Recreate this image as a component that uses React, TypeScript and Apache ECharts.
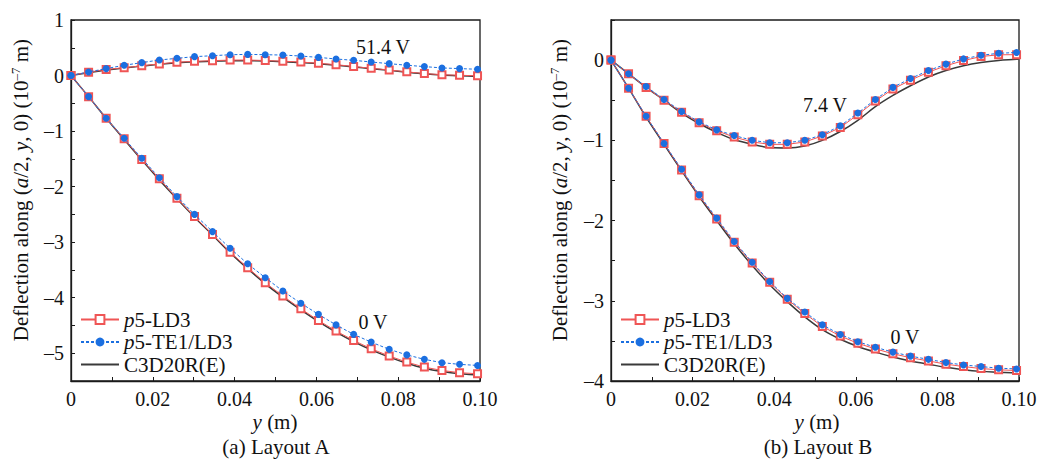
import React, { useEffect, useRef } from "react";
import * as echarts from "echarts";

// ---- data ----
const X_MARK = [0, 0.0043, 0.0086, 0.013, 0.0173, 0.0216, 0.0259, 0.0302, 0.0346, 0.0389, 0.0432, 0.0475, 0.0518, 0.0562, 0.0605, 0.0648, 0.0691, 0.0734, 0.0778, 0.0821, 0.0864, 0.0907, 0.095, 0.0994];
const X_LINE = [...X_MARK, 0.1];

// Layout A
const A_LD3_0V = [0, -0.38, -0.77, -1.14, -1.51, -1.86, -2.21, -2.54, -2.86, -3.18, -3.46, -3.73, -3.97, -4.2, -4.41, -4.6, -4.77, -4.92, -5.05, -5.16, -5.25, -5.31, -5.35, -5.37];
const A_TE1_0V = [0, -0.38, -0.77, -1.13, -1.49, -1.84, -2.18, -2.5, -2.81, -3.11, -3.39, -3.64, -3.88, -4.1, -4.3, -4.49, -4.66, -4.8, -4.93, -5.03, -5.11, -5.17, -5.2, -5.22];
const A_C3D_0V = [0, -0.38, -0.77, -1.15, -1.52, -1.88, -2.22, -2.55, -2.87, -3.19, -3.48, -3.75, -3.99, -4.22, -4.43, -4.62, -4.79, -4.94, -5.07, -5.18, -5.27, -5.33, -5.37, -5.39, -5.4];
const A_LD3_514V = [0, 0.06, 0.11, 0.14, 0.175, 0.21, 0.24, 0.256, 0.268, 0.278, 0.28, 0.27, 0.258, 0.244, 0.22, 0.196, 0.162, 0.131, 0.1, 0.066, 0.036, 0.014, 0.005, -0.005];
const A_TE1_514V = [0, 0.065, 0.125, 0.185, 0.232, 0.28, 0.31, 0.34, 0.357, 0.375, 0.381, 0.375, 0.369, 0.351, 0.327, 0.298, 0.274, 0.244, 0.214, 0.185, 0.161, 0.137, 0.125, 0.113];
const A_C3D_514V = [0, 0.05, 0.1, 0.135, 0.17, 0.205, 0.232, 0.25, 0.26, 0.266, 0.268, 0.262, 0.25, 0.234, 0.212, 0.186, 0.155, 0.124, 0.093, 0.06, 0.03, 0.008, -0.005, -0.015, -0.02];

// Layout B
const B_LD3_0V = [0, -0.35, -0.7, -1.04, -1.37, -1.69, -1.98, -2.27, -2.53, -2.77, -2.98, -3.16, -3.32, -3.44, -3.53, -3.6, -3.66, -3.71, -3.75, -3.79, -3.82, -3.845, -3.86, -3.87];
const B_TE1_0V = [0, -0.35, -0.7, -1.04, -1.36, -1.68, -1.97, -2.26, -2.52, -2.76, -2.97, -3.14, -3.3, -3.42, -3.51, -3.58, -3.64, -3.69, -3.73, -3.77, -3.8, -3.82, -3.84, -3.85];
const B_C3D_0V = [0, -0.35, -0.71, -1.05, -1.38, -1.7, -2.0, -2.29, -2.56, -2.8, -3.01, -3.2, -3.36, -3.48, -3.57, -3.64, -3.7, -3.75, -3.79, -3.83, -3.86, -3.88, -3.89, -3.9, -3.9];
const B_LD3_74V = [0, -0.17, -0.34, -0.5, -0.65, -0.78, -0.88, -0.96, -1.02, -1.05, -1.05, -1.02, -0.945, -0.84, -0.68, -0.51, -0.36, -0.25, -0.15, -0.07, -0.006, 0.045, 0.066, 0.068];
const B_TE1_74V = [0, -0.17, -0.33, -0.49, -0.64, -0.77, -0.87, -0.94, -1.0, -1.03, -1.03, -1.0, -0.93, -0.82, -0.66, -0.49, -0.34, -0.23, -0.13, -0.05, 0.015, 0.06, 0.085, 0.095];
const B_C3D_74V = [0, -0.17, -0.34, -0.5, -0.66, -0.79, -0.9, -0.99, -1.05, -1.09, -1.095, -1.07, -1.0, -0.89, -0.75, -0.58, -0.44, -0.32, -0.21, -0.13, -0.07, -0.03, -0.005, 0.01, 0.015];

const LEGEND_NAMES = ["p5-LD3", "p5-TE1/LD3", "C3D20R(E)"];
const AXIS_A = { min: -5.5, max: 1, interval: 0.5 };
const AXIS_B = { min: -4, max: 0.5, interval: 0.5 };

const FONT = "'Liberation Serif', 'Times New Roman', serif";
const RED = "#ef5555";
const BLUE = "#1b6fe0";
const BLACK = "#3a3a3a";
const AXC = "#1a1a1a";

const zip = (xs: number[], ys: number[]) => ys.map((y, i) => [xs[i], y]);

function xAxisOf(grid: number) {
  return {
    type: "value",
    gridIndex: grid,
    min: 0,
    max: 0.1,
    interval: 0.01,
    axisLine: { show: true, onZero: false, lineStyle: { color: AXC, width: 1.3 } },
    axisTick: { show: true, inside: true, length: 4, lineStyle: { color: AXC, width: 1 } },
    splitLine: { show: false },
    axisLabel: {
      margin: 8,
      fontFamily: FONT,
      fontSize: 20,
      color: "#111",
      formatter: (v: number) => {
        const n = Math.round(v * 100);
        if (n % 2 !== 0) return "";
        return n === 0 ? "0" : (n / 100).toFixed(2);
      },
    },
  };
}

function yAxisOf(grid: number, ax: { min: number; max: number; interval: number }) {
  return {
    type: "value",
    gridIndex: grid,
    min: ax.min,
    max: ax.max,
    interval: ax.interval,
    axisLine: { show: true, onZero: false, lineStyle: { color: AXC, width: 1.3 } },
    axisTick: { show: true, inside: true, length: 4, lineStyle: { color: AXC, width: 1 } },
    splitLine: { show: false },
    axisLabel: {
      margin: 7,
      fontFamily: FONT,
      fontSize: 20,
      color: "#111",
      formatter: (v: number) => {
        if (Math.abs(v - Math.round(v)) > 1e-6) return "";
        const r = Math.round(v);
        return r < 0 ? "\u2013" + -r : String(r);
      },
    },
  };
}

function lineSeries(name: string, grid: number, xs: number[], ys: number[]) {
  return {
    name,
    type: "line",
    xAxisIndex: grid,
    yAxisIndex: grid,
    data: zip(xs, ys),
    showSymbol: false,
    symbol: "none",
    smooth: 0.35,
    lineStyle: { color: BLACK, width: 1.5 },
    itemStyle: { color: BLACK },
    z: 2,
  };
}
function ld3Series(grid: number, ys: number[]) {
  return {
    name: "p5-LD3",
    type: "line",
    xAxisIndex: grid,
    yAxisIndex: grid,
    data: zip(X_MARK, ys),
    symbol: "emptyRect",
    symbolSize: 7,
    lineStyle: { color: RED, width: 1 },
    itemStyle: { color: RED, borderWidth: 1.2 },
    z: 3,
  };
}
function te1Series(grid: number, ys: number[]) {
  return {
    name: "p5-TE1/LD3",
    type: "line",
    xAxisIndex: grid,
    yAxisIndex: grid,
    data: zip(X_MARK, ys),
    symbol: "circle",
    symbolSize: 7,
    lineStyle: { color: BLUE, width: 1, type: [3, 2] },
    itemStyle: { color: BLUE },
    z: 4,
  };
}

function legendOf(left: number, top: number) {
  return {
    orient: "vertical",
    left,
    top,
    itemWidth: 38,
    itemHeight: 11,
    itemGap: 1.5,
    data: [
      LEGEND_NAMES[0],
      LEGEND_NAMES[1],
      { name: LEGEND_NAMES[2], itemStyle: { opacity: 0 } },
    ],
    selectedMode: false,
    formatter: (name: string) => (name.startsWith("p5") ? "{i|p}" + name.slice(1) : name),
    textStyle: {
      fontFamily: FONT,
      fontSize: 21,
      color: "#111",
      rich: { i: { fontFamily: FONT, fontSize: 21, fontStyle: "italic", color: "#111" } },
    },
  };
}

function yTitle(x: number, y: number) {
  const base = { fontFamily: FONT, fontSize: 21, lineHeight: 24, fill: "#111" };
  return {
    type: "text",
    x,
    y,
    rotation: Math.PI / 2,
    style: {
      text: "{n|Deflection along (}{i|a}{n|/2, }{i|y}{n|, 0) (10}{s|\u20137}{n| m)}",
      align: "center",
      verticalAlign: "middle",
      rich: {
        n: { ...base },
        i: { ...base, fontStyle: "italic" },
        s: { fontFamily: FONT, fontSize: 13, lineHeight: 24, fill: "#111", verticalAlign: "top", padding: [0, 0, 10, 0] },
      },
    },
  };
}

function plainText(text: string, x: number, y: number, size = 20) {
  return {
    type: "text",
    x,
    y,
    style: { text, fontFamily: FONT, fontSize: size, fill: "#111", align: "center", verticalAlign: "middle" },
  };
}

function xTitle(x: number, y: number) {
  const base = { fontFamily: FONT, fontSize: 21, fill: "#111" };
  return {
    type: "text",
    x,
    y,
    style: {
      text: "{i|y}{n| (m)}",
      align: "center",
      verticalAlign: "middle",
      rich: { n: { ...base }, i: { ...base, fontStyle: "italic" } },
    },
  };
}

export default function App() {
  const ref = useRef<HTMLDivElement>(null);
  useEffect(() => {
    if (!ref.current) return;
    const chart = echarts.init(ref.current, undefined, { renderer: "svg" });
    chart.setOption({
      animation: false,
      backgroundColor: "#fff",
      grid: [
        { left: 71, top: 20, width: 409, height: 361, show: true, borderColor: AXC, borderWidth: 1.3, backgroundColor: "transparent" },
        { left: 611, top: 20, width: 408, height: 361, show: true, borderColor: AXC, borderWidth: 1.3, backgroundColor: "transparent" },
      ],
      xAxis: [xAxisOf(0), xAxisOf(1)],
      yAxis: [yAxisOf(0, AXIS_A), yAxisOf(1, AXIS_B)],
      legend: [legendOf(75, 304), legendOf(615, 304)],
      series: [
        lineSeries("C3D20R(E)", 0, X_LINE, A_C3D_0V),
        lineSeries("C3D20R(E)", 0, X_LINE, A_C3D_514V),
        ld3Series(0, A_LD3_0V),
        ld3Series(0, A_LD3_514V),
        te1Series(0, A_TE1_0V),
        te1Series(0, A_TE1_514V),
        lineSeries("C3D20R(E)", 1, X_LINE, B_C3D_0V),
        lineSeries("C3D20R(E)", 1, X_LINE, B_C3D_74V),
        ld3Series(1, B_LD3_0V),
        ld3Series(1, B_LD3_74V),
        te1Series(1, B_TE1_0V),
        te1Series(1, B_TE1_74V),
      ],
      graphic: [
        yTitle(21, 190),
        yTitle(560, 190),
        xTitle(275, 422),
        xTitle(817, 422),
        plainText("(a) Layout A", 276, 447, 21),
        plainText("(b) Layout B", 818, 447, 21),
        plainText("51.4 V", 383, 47),
        plainText("0 V", 373, 322),
        plainText("7.4 V", 825, 105),
        plainText("0 V", 905, 337),
      ],
    });
    return () => chart.dispose();
  }, []);
  return <div ref={ref} style={{ position: "fixed", left: 0, top: 0, width: 1040, height: 467 }} />;
}
